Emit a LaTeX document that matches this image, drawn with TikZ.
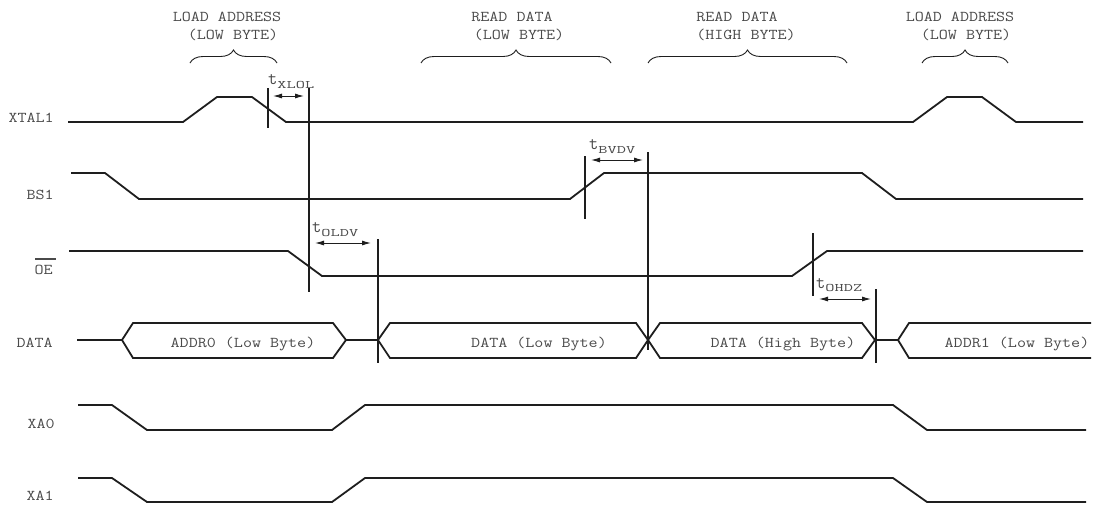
\documentclass[tikz,border=0pt]{standalone}
\usepackage{fontspec}
\usepackage{graphicx}
\usetikzlibrary{arrows.meta,decorations.pathreplacing}
\definecolor{txt}{HTML}{4A4A4A}
\definecolor{ln}{HTML}{1E1E1E}
\newcommand{\tlab}[2][-4pt]{{\ttfamily\fontsize{18}{18}\selectfont t}\raisebox{#1}{\scalebox{1.55}[1]{\ttfamily\fontsize{11.5}{11.5}\selectfont #2}}}
\begin{document}
\begin{tikzpicture}[x=1pt,y=-1pt,
  sig/.style={draw=ln,line width=1.8pt},
  vline/.style={draw=ln,line width=1.1pt},
  dim/.style={draw=ln,line width=1pt,{Latex[length=9pt,width=5pt]}-{Latex[length=9pt,width=5pt]}},
  lbl/.style={font=\ttfamily\fontsize{15}{15}\selectfont,text=txt,inner sep=0pt,xscale=1.17,transform shape},
  tl/.style={text=txt,inner sep=0pt,anchor=base west},
  brc/.style={draw=ln,line width=0.9pt,decorate,decoration={brace,amplitude=13pt}},
]
\useasboundingbox (0,0) rectangle (1107,504);

% signal names
\node[lbl,anchor=base east] (nXTAL) at (54,122) {XTAL1};
\node[lbl,anchor=base east] (nBS) at (54,199) {BS1};
\node[lbl,anchor=base east] (nOE) at (53,274) {OE};
\node[lbl,anchor=base east] (nDATA) at (53,347) {DATA};
\node[lbl,anchor=base east] (nXA0) at (55,428) {XA0};
\node[lbl,anchor=base east] (nXA1) at (54,500) {XA1};
\draw[draw=txt,line width=1.1pt] (35,259) -- (56,259);

% phase titles
\node[lbl,anchor=base] (h1a) at (227,21) {LOAD ADDRESS};
\node[lbl,anchor=base] (h1b) at (233,39) {(LOW BYTE)};
\node[lbl,anchor=base] (h2a) at (512,21) {READ DATA};
\node[lbl,anchor=base] (h2b) at (519,39) {(LOW BYTE)};
\node[lbl,anchor=base] (h3a) at (737,21) {READ DATA};
\node[lbl,anchor=base] (h3b) at (746,39) {(HIGH BYTE)};
\node[lbl,anchor=base] (h4a) at (960,21) {LOAD ADDRESS};
\node[lbl,anchor=base] (h4b) at (966,39) {(LOW BYTE)};

% braces
\draw[brc] (190,63) -- (277,63);
\draw[brc] (421,63) -- (611,63);
\draw[brc] (648,63) -- (847,63);
\draw[brc] (922,63) -- (1008,63);

% waveforms
\draw[sig] (68,122) -- (183,122) -- (217,97) -- (252,97) -- (286,122) -- (913,122) -- (947,97) -- (982,97) -- (1016,122) -- (1083,122);
\draw[sig] (71,173) -- (105,173) -- (139,199) -- (570,199) -- (604,173) -- (862,173) -- (896,199) -- (1083,199);
\draw[sig] (69,251) -- (288,251) -- (322,276) -- (792,276) -- (827,251) -- (1083,251);
\draw[sig] (78,405) -- (112,405) -- (147,430) -- (332,430) -- (365,405) -- (893,405) -- (927,430) -- (1086,430);
\draw[sig] (78,478) -- (112,478) -- (147,502) -- (332,502) -- (365,478) -- (893,478) -- (927,502) -- (1086,502);

% data bus
\draw[sig] (77,340) -- (122,340);
\draw[sig,line join=miter] (122,340) -- (133,323) -- (333,323) -- (346,340) -- (333,358) -- (133,358) -- cycle;
\draw[sig] (346,340) -- (378,340);
\draw[sig,line join=miter] (378,340) -- (390,323) -- (636,323) -- (648,340) -- (636,358) -- (390,358) -- cycle;
\draw[sig,line join=miter] (648,340) -- (660,323) -- (862,323) -- (875,340) -- (862,358) -- (660,358) -- cycle;
\draw[sig] (875,340) -- (898,340);
\draw[sig,line join=miter] (1091,323) -- (909,323) -- (898,340) -- (909,358) -- (1091,358);
\node[lbl,anchor=base] (d1) at (243,347) {ADDR0 (Low Byte)};
\node[lbl,anchor=base] (d2) at (539,347) {DATA (Low Byte)};
\node[lbl,anchor=base] (d3) at (783,347) {DATA (High Byte)};
\node[lbl,anchor=base] (d4) at (1017,347) {ADDR1 (Low Byte)};

% timing reference lines
\draw[vline] (268,88) -- (268,128);
\draw[vline] (309,88) -- (309,292);
\draw[vline] (585,156) -- (585,219);
\draw[vline] (648,152) -- (648,350);
\draw[vline] (378,239) -- (378,363);
\draw[vline] (813,233) -- (813,296);
\draw[vline] (876,289) -- (876,363);

% timing arrows
\coordinate (x1) at (273,96);  \coordinate (x2) at (304,96);
\coordinate (o1) at (315,243); \coordinate (o2) at (371,243);
\coordinate (b1) at (591,160); \coordinate (b2) at (643,160);
\coordinate (z1) at (819,299); \coordinate (z2) at (871,299);
\draw[dim] (x1) -- (x2);
\draw[dim] (o1) -- (o2);
\draw[dim] (b1) -- (b2);
\draw[dim] (z1) -- (z2);
\node[tl] (tX) at (268,84) {\tlab{XLOL}};
\node[tl] (tO) at (312,232) {\tlab{OLDV}};
\node[tl] (tB) at (589,149) {\tlab{BVDV}};
\node[tl] (tZ) at (816,288) {\tlab[-3pt]{OHDZ}};
\end{tikzpicture}
\end{document}
